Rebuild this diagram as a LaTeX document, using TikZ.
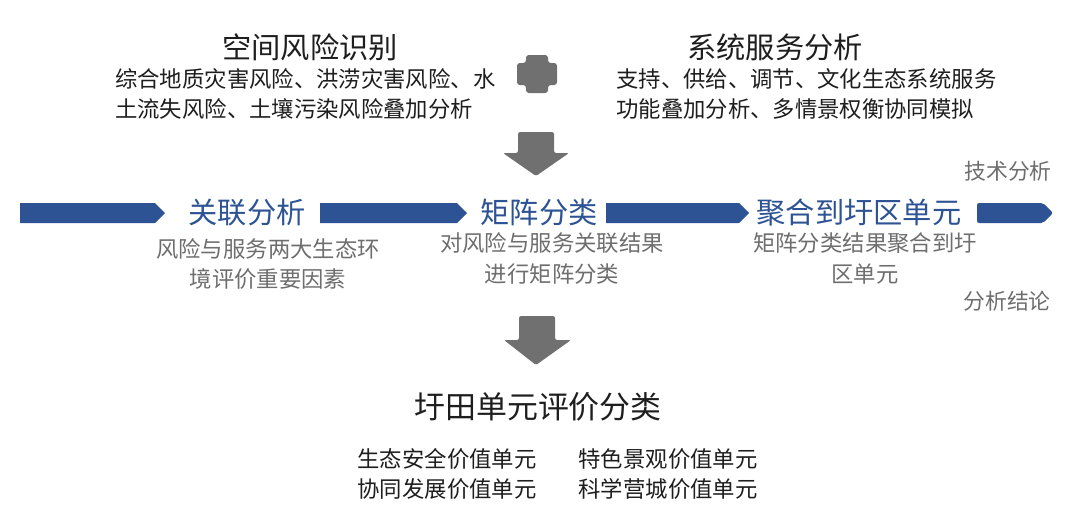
\documentclass[tikz,border=0pt]{standalone}
\usepackage{fontspec}
\setmainfont{Noto Sans CJK SC}
\definecolor{barblue}{HTML}{2D5394}
\definecolor{txtgray}{HTML}{6E6E6E}
\definecolor{arrgray}{HTML}{707070}
\definecolor{darktxt}{HTML}{1E1E1E}
\tikzset{
  head/.style={inner sep=0pt, font=\fontsize{20.8pt}{24pt}\selectfont, text=darktxt},
  bodytxt/.style={inner sep=0pt, font=\fontsize{15.9pt}{21.3pt}\selectfont, text=darktxt, align=left},
  stagetxt/.style={inner sep=0pt, font=\fontsize{20.8pt}{24pt}\selectfont, text=barblue},
  desc/.style={inner sep=0pt, font=\fontsize{15.9pt}{22pt}\selectfont, text=txtgray, align=center},
  side/.style={inner sep=0pt, font=\fontsize{15.5pt}{20pt}\selectfont, text=txtgray},
  barseg/.style={fill=barblue, draw=none},
  bigarrow/.style={fill=arrgray, draw=none, rounded corners=1.5}
}
\begin{document}
\begin{tikzpicture}[x=0.025cm, y=-0.025cm]
\useasboundingbox (0,0) rectangle (1080,527);
\fill[white] (0,0) rectangle (1080,527);

% top-left block
\node[head] (risk) at (310,47) {空间风险识别};
\node[bodytxt, anchor=north west] (riskbody) at (115,68) {综合地质灾害风险、洪涝灾害风险、水\\土流失风险、土壤污染风险叠加分析};

% top-right block
\node[head] (serv) at (775,47) {系统服务分析};
\node[bodytxt, anchor=north west] (servbody) at (616,68) {支持、供给、调节、文化生态系统服务\\功能叠加分析、多情景权衡协同模拟};

% plus sign
\node[inner sep=0pt, minimum size=0pt] (plus) at (537,74) {};
\fill[arrgray, rounded corners=2] (526,55) -- (548,55) -- (548,63) -- (557,63) -- (557,85) -- (548,85) -- (548,93) -- (526,93) -- (526,85) -- (517,85) -- (517,63) -- (526,63) -- cycle;

% first down arrow
\fill[bigarrow] (518,132) -- (554,132) -- (554,153) -- (569,153) -- (536,176) -- (503,153) -- (518,153) -- cycle;

% side labels
\node[side] (tech) at (1008,171) {技术分析};
\node[side] (concl) at (1007,301) {分析结论};

% stage labels
\node[stagetxt] (s1) at (247,212) {关联分析};
\node[stagetxt] (s2) at (539,212) {矩阵分类};
\node[stagetxt] (s3) at (859,212) {聚合到圩区单元};

% bar segments
\fill[barseg] (20,203) -- (155,203) -- (165,213) -- (155,223) -- (20,223) -- cycle;
\fill[barseg] (320,203) -- (457,203) -- (467,213) -- (457,223) -- (320,223) -- cycle;
\fill[barseg] (606,203) -- (739,203) -- (749,213) -- (739,223) -- (606,223) -- cycle;
\fill[barseg, rounded corners=1.5] (977,203) -- (1043,203) -- (1053,213) -- (1043,223) -- (977,223) -- cycle;

% descriptions
\node[desc] (d1) at (268,264) {风险与服务两大生态环\\境评价重要因素};
\node[desc] (d2) at (552,258) {对风险与服务关联结果\\进行矩阵分类};
\node[desc] (d3) at (865,258) {矩阵分类结果聚合到圩\\区单元};

% second down arrow
\fill[bigarrow] (519,316) -- (555,316) -- (555,340) -- (571,340) -- (536,365) -- (504,340) -- (519,340) -- cycle;

% result
\node[inner sep=0pt, font=\fontsize{22pt}{26pt}\selectfont, text=darktxt] (res) at (538,407) {圩田单元评价分类};
\node[bodytxt, anchor=center] (r1) at (447,459) {生态安全价值单元};
\node[bodytxt, anchor=center] (r2) at (668,459) {特色景观价值单元};
\node[bodytxt, anchor=center] (r3) at (447,489) {协同发展价值单元};
\node[bodytxt, anchor=center] (r4) at (668,489) {科学营城价值单元};
\end{tikzpicture}
\end{document}
